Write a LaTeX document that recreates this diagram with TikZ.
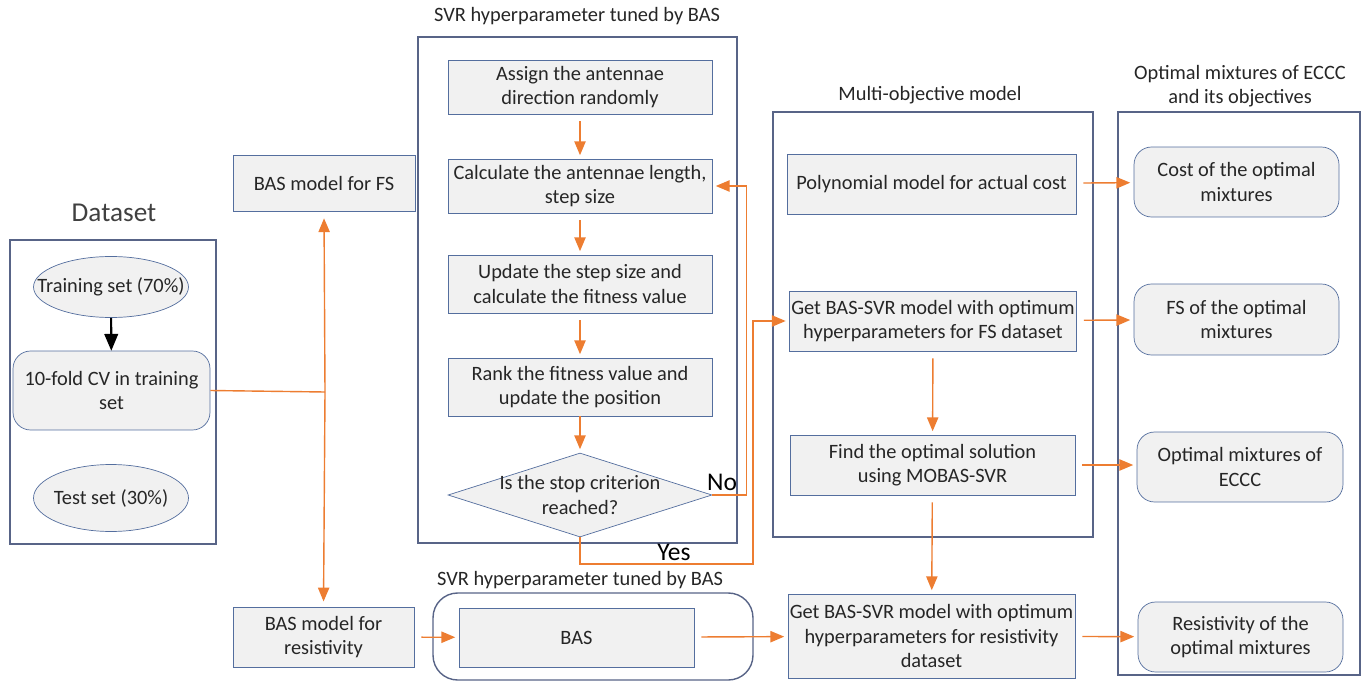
\documentclass[tikz,border=0pt]{standalone}
\usepackage{fontspec}
\setmainfont{Carlito}
\usepackage{tikz}
\usepackage{xcolor}
\definecolor{tgray}{RGB}{241,241,241}
\definecolor{tline}{RGB}{84,110,158}
\definecolor{tframe}{RGB}{88,100,135}
\definecolor{torange}{RGB}{237,125,49}
\usetikzlibrary{shapes.geometric}
\usetikzlibrary{arrows}

\begin{document}
\begin{tikzpicture}[x=0.02cm, y=-0.02cm, font=\fontsize{11.6}{14}\selectfont, text=black!85]
\tikzstyle{boxGray} = [
  shape=rectangle,
  draw = tline,
  fill = tgray,
  align = center,
  inner sep = 1pt
]
\tikzstyle{boxRound} = [
  boxGray,
  rounded corners = 10pt
]
\tikzstyle{boxOval} = [
  boxGray,
  shape = ellipse,
  inner sep = 0pt
]
\tikzstyle{decision} = [
  boxGray,
  shape = diamond,
  inner sep = 0pt
]
\tikzstyle{groupBox} = [
  shape=rectangle,
  draw = tframe,
  line width = 0.8,
  inner sep = 0pt
]
\tikzstyle{oEdge} = [
  draw = torange,
  line width = 0.8
]
\tikzstyle{oArrow} = [
  oEdge,
  -triangle 45,
  shorten < = 4pt,
  shorten > = 2pt
]

\useasboundingbox (0,0) rectangle (1368,682);

% group frames
\node[groupBox, minimum width=4.12cm, minimum height=6.08cm] (dataBox) at (113,392) {};
\node[groupBox, minimum width=6.38cm, minimum height=10.12cm] (svrBox) at (577.5,290) {};
\node[groupBox, rounded corners=14pt, minimum width=6.4cm, minimum height=1.74cm] (basFrame) at (593,636.5) {};
\node[groupBox, minimum width=6.4cm, minimum height=8.5cm] (multiBox) at (933,324.5) {};
\node[groupBox, minimum width=4.84cm, minimum height=11.26cm] (optBox) at (1239,393.5) {};

% frame titles
\node[font=\fontsize{15.5}{18}\selectfont, text=black!75] (dataTitle) at (114,213) {Dataset};
\node (svrTitle) at (577,16) {SVR hyperparameter tuned by BAS};
\node (basTitle) at (580,580) {SVR hyperparameter tuned by BAS};
\node (multiTitle) at (930,95) {Multi-objective model};
\node[align=center] (optTitle) at (1240,86) {Optimal mixtures of ECCC\\and its objectives};

% dataset
\node[boxOval, minimum width=3.1cm, minimum height=1.22cm,
  label={center:Training set (70\%)}] (train) at (111,287) {};
\node[boxRound, minimum width=3.94cm, minimum height=1.58cm] (cv) at (111.5,390.5) {10-fold CV in training\\set};
\node[boxOval, minimum width=3.1cm, minimum height=1.34cm,
  label={center:Test set (30\%)}] (test) at (111,498) {};

% BAS models
\node[boxGray, minimum width=3.64cm, minimum height=1.12cm] (fsModel) at (324,183) {BAS model for FS};
\node[boxGray, minimum width=3.62cm, minimum height=1.2cm] (resModel) at (323.5,637) {BAS model for\\resistivity};

% SVR tuning steps
\node[boxGray, minimum width=5.28cm, minimum height=1.08cm] (assign) at (580,87) {Assign the antennae\\direction randomly};
\node[boxGray, minimum width=5.28cm, minimum height=1.08cm] (calc) at (580,186) {Calculate the antennae length,\\step size};
\node[boxGray, minimum width=5.28cm, minimum height=1.16cm] (upd) at (580,284) {Update the step size and\\calculate the fitness value};
\node[boxGray, minimum width=5.28cm, minimum height=1.16cm] (rank) at (580,387) {Rank the fitness value and\\update the position};
\node[decision, minimum width=5.28cm, minimum height=1.68cm,
  label={[align=center]center:Is the stop criterion\\reached?}] (stop) at (580,495) {};
\node[boxGray, minimum width=4.7cm, minimum height=1.18cm] (bas) at (576.5,637.5) {BAS};

% multi-objective model
\node[boxGray, minimum width=5.78cm, minimum height=1.2cm] (poly) at (931.5,184) {Polynomial model for actual cost};
\node[boxGray, minimum width=5.72cm, minimum height=1.2cm] (getFS) at (933,321) {Get BAS-SVR model with optimum\\hyperparameters for FS dataset};
\node[boxGray, minimum width=5.7cm, minimum height=1.2cm] (find) at (932.5,465) {Find the optimal solution\\using MOBAS-SVR};
\node[boxGray, minimum width=5.74cm, minimum height=1.68cm] (getRes) at (931.5,636) {Get BAS-SVR model with optimum\\hyperparameters for resistivity\\dataset};

% outputs
\node[boxRound, minimum width=4.1cm, minimum height=1.4cm] (cost) at (1236.5,182) {Cost of the optimal\\mixtures};
\node[boxRound, minimum width=4.1cm, minimum height=1.42cm] (fsOf) at (1236.5,319.5) {FS of the optimal\\mixtures};
\node[boxRound, minimum width=4.12cm, minimum height=1.4cm] (mixEccc) at (1240,467) {Optimal mixtures of\\ECCC};
\node[boxRound, minimum width=4.1cm, minimum height=1.4cm] (resOf) at (1240.5,637) {Resistivity of the\\optimal mixtures};

% branch labels
\node[font=\fontsize{14.5}{16}\selectfont, text=black] (noLab) at (722,482) {No};
\node[font=\fontsize{14.5}{16}\selectfont, text=black] (yesLab) at (674,552) {Yes};

\coordinate (split) at (325,392);
\coordinate (yesTurn) at (753,564);

\draw[line width=1.2, -triangle 45] (train) -- (cv);

\draw[oEdge] (cv.east) -- (split);
\draw[oArrow, shorten <=0pt, shorten >=4pt] (split) -- (fsModel.south);
\draw[oArrow, shorten <=0pt, shorten >=3pt] (split) -- (resModel.north);

\draw[oArrow] (assign) -- (calc);
\draw[oArrow] (calc) -- (upd);
\draw[oArrow] (upd) -- (rank);
\draw[oArrow, shorten <=0pt] (rank) -- (stop);
\draw[oArrow, shorten <=0pt] (stop.east) -- ++(34,0) |- (calc.east);
\draw[oArrow, shorten <=0pt] (stop.south) |- (yesTurn) |- (getFS.west);

\draw[oArrow] (resModel) -- (bas);
\draw[oArrow] (bas) -- (getRes);
\draw[oArrow] (getFS) -- (find);
\draw[oArrow] (find) -- (getRes);

\draw[oArrow] (poly) -- (cost);
\draw[oArrow] (getFS) -- (fsOf);
\draw[oArrow] (find.east) -- (mixEccc.west |- find.east);
\draw[oArrow] (getRes) -- (resOf);

\end{tikzpicture}
\end{document}
